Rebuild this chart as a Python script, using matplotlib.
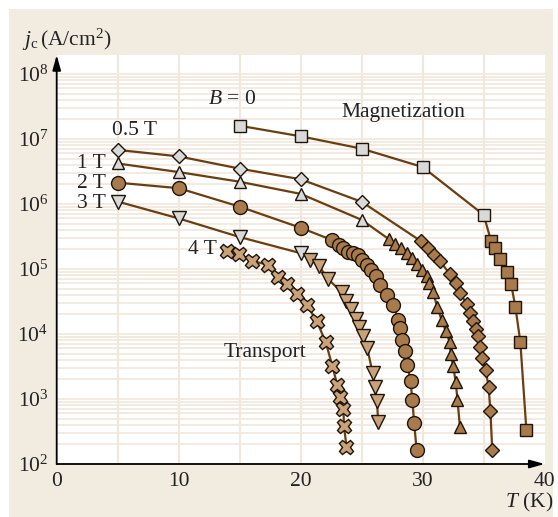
import matplotlib
matplotlib.use('Agg')
import matplotlib.pyplot as plt
from matplotlib.patches import Rectangle

plt.rcParams['font.family'] = ['Liberation Serif', 'DejaVu Serif']
plt.rcParams['mathtext.fontset'] = 'custom'
plt.rcParams['mathtext.rm'] = 'Liberation Serif'
plt.rcParams['mathtext.it'] = 'Liberation Serif:italic'

# B = 0 (magnetization)
T_b0 = [15, 20, 25, 30, 35, 35.6, 35.95, 36.35, 36.9, 37.25, 37.6, 38.0, 38.5]
jc_b0 = [1.6e7, 1.1e7, 7.1e6, 3.7e6, 6.8e5, 2.7e5, 2.1e5, 1.45e5, 8.9e4, 5.8e4, 2.6e4, 7.6e3, 3.3e2]

# 0.5 T
T_05 = [5, 10, 15, 20, 25, 29.9, 30.45, 30.95, 31.4, 32.2, 32.7, 33.05, 33.6, 33.9,
        34.1, 34.35, 34.55, 34.7, 34.85, 35.15, 35.4, 35.55, 35.7]
jc_05 = [6.8e6, 5.4e6, 3.5e6, 2.4e6, 1.08e6, 2.65e5, 2.1e5, 1.67e5, 1.33e5, 8.5e4, 6.1e4,
         4.3e4, 2.9e4, 2.1e4, 1.6e4, 1.2e4, 9.2e3, 6.4e3, 4.2e3, 2.8e3, 1.55e3, 6.5e2, 1.65e2]

# 1 T
T_1 = [5, 10, 15, 20, 25, 27.2, 27.75, 28.2, 28.7, 29.1, 29.5, 29.95, 30.35, 30.55, 30.85,
       31.2, 31.55, 31.9, 32.2, 32.3, 32.5, 32.7, 32.85, 33.05]
jc_1 = [4.2e6, 3.1e6, 2.2e6, 1.43e6, 5.7e5, 2.9e5, 2.45e5, 2.1e5, 1.75e5, 1.46e5, 1.2e5,
        9.8e4, 7.8e4, 6.0e4, 4.35e4, 2.6e4, 1.64e4, 1.1e4, 7.6e3, 5.0e3, 3.2e3, 1.85e3, 9.7e2, 3.75e2]

# 2 T
T_2 = [5, 10, 15, 20, 22.55, 23.1, 23.5, 23.9, 24.3, 24.7, 25.0, 25.4, 25.8, 26.2, 26.5,
       27.05, 27.6, 28.0, 28.15, 28.3, 28.55, 28.75, 29.0, 29.15, 29.3, 29.5]
jc_2 = [2.13e6, 1.75e6, 9.1e5, 4.3e5, 2.8e5, 2.35e5, 2.1e5, 1.85e5, 1.75e5, 1.64e5, 1.37e5,
        1.15e5, 9.7e4, 7.9e4, 5.7e4, 4.0e4, 2.75e4, 1.66e4, 1.22e4, 8.1e3, 5.5e3, 3.3e3,
        1.9e3, 9.8e2, 4.3e2, 1.65e2]

# 3 T
T_3 = [5, 10, 15, 20, 20.8, 21.5, 22.25, 23.35, 23.7, 24.1, 24.5, 24.8, 25.1, 25.45,
       25.9, 26.05, 26.25, 26.35]
jc_3 = [1.09e6, 6.0e5, 3.1e5, 1.75e5, 1.4e5, 1.11e5, 7.0e4, 4.4e4, 3.2e4, 2.4e4, 1.73e4,
        1.28e4, 9.3e3, 6.1e3, 2.5e3, 1.55e3, 9.3e2, 4.5e2]

# 4 T (transport)
T_4 = [13.95, 14.95, 16.0, 17.35, 18.15, 18.9, 19.7, 20.5, 21.3, 22.05, 22.6, 23.0,
       23.2, 23.5, 23.55, 23.75]
jc_4 = [1.9e5, 1.7e5, 1.34e5, 1.15e5, 7.6e4, 5.9e4, 4.1e4, 2.8e4, 1.6e4, 7.5e3, 3.2e3,
        1.64e3, 1.08e3, 6.9e2, 3.85e2, 1.85e2]

x_ticks = [0, 10, 20, 30, 40]
y_exps = [2, 3, 4, 5, 6, 7, 8]

line_c = '#6a3e10'
edge_c = '#1e1408'
grey = '#d9d9d9'
brown = '#a87a4c'
tan = '#c9a27a'
beige = '#f2ebe0'
grid_c = '#f1e7dc'

W, H = 558, 517
fig = plt.figure(figsize=(W / 100, H / 100), dpi=100)
fig.patch.set_facecolor('white')
fig.patches.append(Rectangle((9 / W, 0), 544 / W, 508 / H, transform=fig.transFigure,
                             facecolor=beige, edgecolor='none', zorder=-10))

ax = fig.add_axes([56.7 / W, 53 / H, 488 / W, 409 / H])
ax.set_facecolor('white')
ax.set_yscale('log')
ax.set_xlim(0, 40)
ax.set_ylim(1e2, 1.96e8)

# grid
for t in range(5, 40, 5):
    ax.axvline(t, color=grid_c, lw=1.5, zorder=0)
for e in range(2, 9):
    for m in range(1, 10):
        v = m * 10 ** e
        if v <= 1.96e8 and v > 1e2:
            ax.axhline(v, color=grid_c, lw=1.2, zorder=0)


def series(T, jc, marker, ms, n_grey, col, mew=1.0):
    ax.plot(T, jc, '-', color=line_c, lw=1.6, zorder=2)
    ax.plot(T[:n_grey], jc[:n_grey], marker, ms=ms, mfc=grey, mec=edge_c, mew=mew,
            ls='none', zorder=3)
    ax.plot(T[n_grey:], jc[n_grey:], marker, ms=ms, mfc=col, mec=edge_c, mew=mew,
            ls='none', zorder=3)


series(T_b0, jc_b0, 's', 8.5, 5, brown)
series(T_05, jc_05, 'D', 7.5, 5, brown)
series(T_1, jc_1, '^', 9, 5, brown)
series(T_2, jc_2, 'o', 10, 0, brown)
series(T_3, jc_3, 'v', 9.5, 4, tan)
series(T_4, jc_4, 'X', 10.5, 0, tan, mew=1.0)

# axes with arrows
for s in ax.spines.values():
    s.set_visible(False)
ax.annotate('', xy=(0, 1.0), xytext=(0, 0), xycoords='axes fraction',
            arrowprops=dict(arrowstyle='-|>,head_length=0.9,head_width=0.25',
                            color='black', lw=1.3, shrinkA=0, shrinkB=0), zorder=5)
ax.annotate('', xy=(1.0, 0), xytext=(0, 0), xycoords='axes fraction',
            arrowprops=dict(arrowstyle='-|>,head_length=0.9,head_width=0.25',
                            color='black', lw=1.3, shrinkA=0, shrinkB=0), zorder=5)

ax.set_xticks(x_ticks)
ax.set_xticklabels([str(t) for t in x_ticks], fontsize=15.5)
ax.set_yticks([10 ** e for e in y_exps])
ax.set_yticklabels([r'$10^{%d}$' % e for e in y_exps], fontsize=15.5)
ax.yaxis.set_minor_locator(plt.NullLocator())
ax.tick_params(length=0, pad=6, colors='#222222')


def px(x, y):
    return x / W, 1 - y / H


kw = dict(fontsize=15.5, color='#222222', transform=fig.transFigure)
fig.text(*px(232, 100), r'$B$ = 0', ha='center', va='center', **kw)
fig.text(*px(403, 112), 'Magnetization', ha='center', va='center', **kw)
fig.text(*px(135, 130), '0.5 T', ha='center', va='center', **kw)
fig.text(*px(106, 163), '1 T', ha='right', va='center', **kw)
fig.text(*px(106, 183), '2 T', ha='right', va='center', **kw)
fig.text(*px(106, 204), '3 T', ha='right', va='center', **kw)
fig.text(*px(217, 249), '4 T', ha='right', va='center', **kw)
fig.text(*px(265, 352), 'Transport', ha='center', va='center', **kw)
fig.text(*px(22, 40), r'$j_{\mathrm{c}}\,(\mathrm{A/cm^2})$', ha='left', va='center', **kw)
fig.text(*px(553, 502), r'$T$ (K)', ha='right', va='center', **kw)

fig.savefig('out.png', dpi=100, facecolor='white')
